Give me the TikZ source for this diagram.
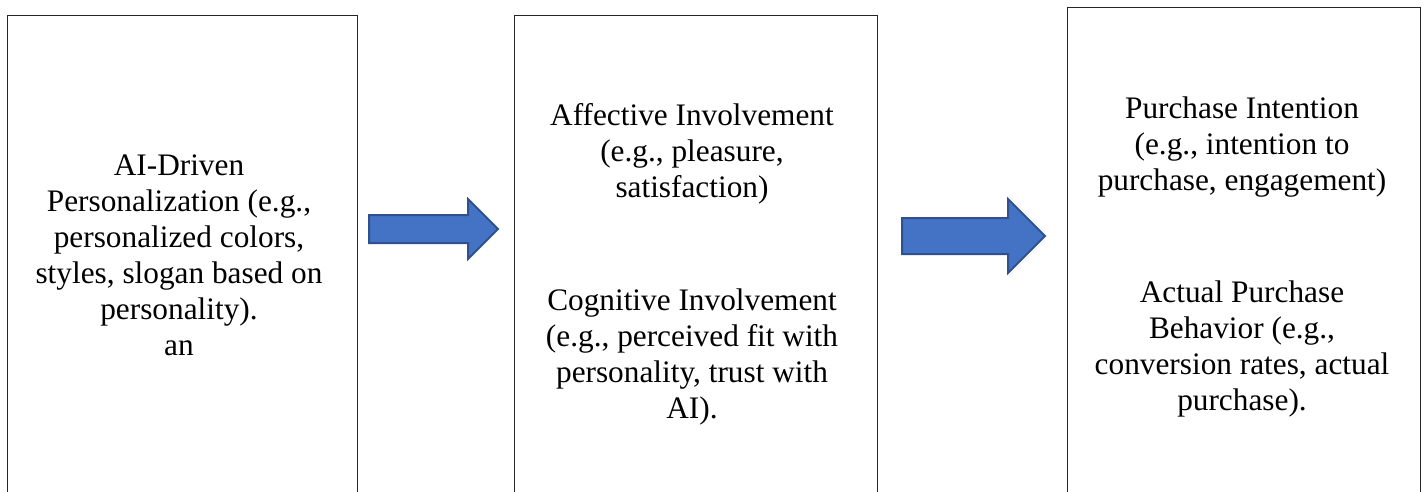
\documentclass[tikz,border=0pt]{standalone}
\usepackage{fontspec}
\setmainfont{Liberation Serif}
\definecolor{arrowfill}{HTML}{4472C4}
\definecolor{arrowdraw}{HTML}{2F528F}
\definecolor{boxline}{HTML}{262626}
\begin{document}
\begin{tikzpicture}[x=1pt,y=-1pt,
  box/.style={draw=boxline, line width=1.3pt, fill=white, anchor=north west, inner sep=0pt, rectangle},
  txt/.style={font=\fontsize{31.3}{36}\selectfont, align=center, inner sep=0pt, anchor=north},
  blockarrow/.style={fill=arrowfill, draw=arrowdraw, line width=2pt, line join=miter}]
\clip (0,0) rectangle (1424,492);
\fill[white] (0,0) rectangle (1424,492);
% boxes (extend beyond the lower edge)
\node[box, minimum width=350pt, minimum height=540pt] (b1) at (7,15) {};
\node[box, minimum width=363pt, minimum height=540pt] (b2) at (514,15) {};
\node[box, minimum width=353pt, minimum height=540pt] (b3) at (1067,7) {};
% texts
\node[txt] (t1) at (179,{175-25.2}) {\strut AI-Driven\\Personalization (e.g.,\\personalized colors,\\styles, slogan based on\\personality).\\an};
\node[txt] (t2a) at (692,{125-25.2}) {\strut Affective Involvement\\(e.g., pleasure,\\satisfaction)};
\node[txt] (t2b) at (692,{310-25.2}) {\strut Cognitive Involvement\\(e.g., perceived fit with\\personality, trust with\\AI).};
\node[txt] (t3a) at (1242,{118-25.2}) {\strut Purchase Intention\\(e.g., intention to\\purchase, engagement)};
\node[txt] (t3b) at (1242,{302-25.2}) {\strut Actual Purchase\\Behavior (e.g.,\\conversion rates, actual\\purchase).};
% block arrows
\draw[blockarrow] (369,215) -- (468,215) -- (468,199) -- (498,229) -- (468,259) -- (468,243) -- (369,243) -- cycle;
\draw[blockarrow] (902,218) -- (1008,218) -- (1008,199) -- (1045,236) -- (1008,273) -- (1008,254) -- (902,254) -- cycle;
\end{tikzpicture}
\end{document}
